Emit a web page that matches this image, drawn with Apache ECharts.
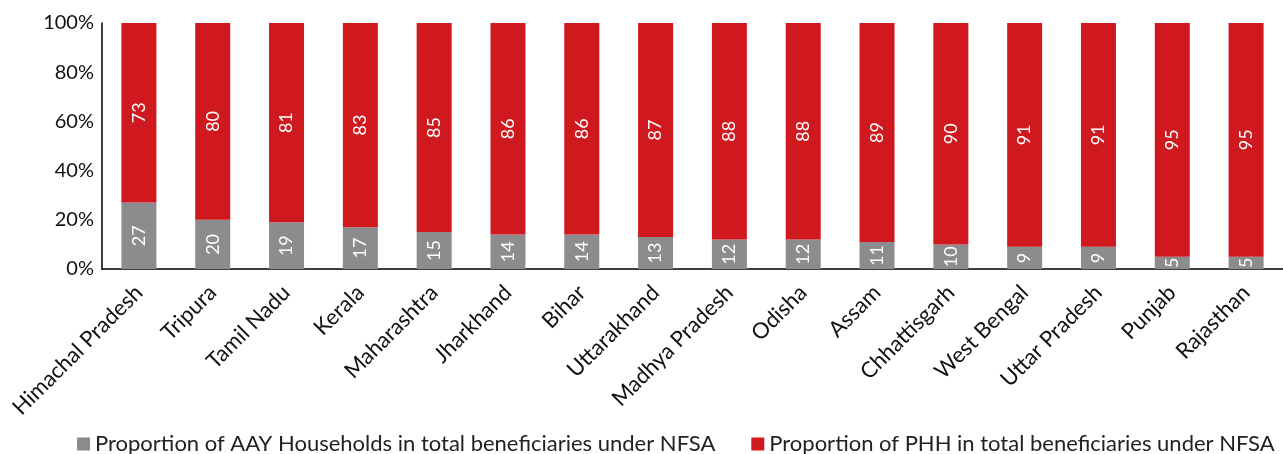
<!DOCTYPE html>
<html><head><meta charset="utf-8">
<script src="https://cdn.jsdelivr.net/npm/echarts@6/dist/echarts.min.js"></script>
<style>html,body{margin:0;padding:0;background:#fff}#c{width:1283px;height:454px}</style>
</head><body><div id="c"></div>
<script>
const categories = ["Himachal Pradesh","Tripura","Tamil Nadu","Kerala","Maharashtra","Jharkhand","Bihar","Uttarakhand","Madhya Pradesh","Odisha","Assam","Chhattisgarh","West Bengal","Uttar Pradesh","Punjab","Rajasthan"];
const aayValues = [27,20,19,17,15,14,14,13,12,12,11,10,9,9,5,5];
const phhValues = [73,80,81,83,85,86,86,87,88,88,89,90,91,91,95,95];
const yTicks = ["0%","20%","40%","60%","80%","100%"];
const seriesNames = ["Proportion of AAY Households in total beneficiaries under NFSA","Proportion of PHH in total beneficiaries under NFSA"];

const font = "Lato, 'Open Sans', sans-serif";
const chart = echarts.init(document.getElementById('c'));
const lbl = {show:true, position:'inside', rotate:90, color:'#fff', fontSize:18, fontFamily:font};
chart.setOption({
  animation:false,
  grid:{left:102, top:23, width:1189, height:246, containLabel:false},
  legend:{top:433, left:77, width:1206, padding:0, itemWidth:13, itemHeight:13, itemGap:36, icon:'rect',
    textStyle:{fontSize:22, color:'#222', fontFamily:font}},
  xAxis:{type:'category', data:categories,
    axisLine:{lineStyle:{color:'#000', width:1.5}}, axisTick:{show:false},
    axisLabel:{rotate:45, interval:0, fontSize:22, color:'#111', fontFamily:font, margin:20}},
  yAxis:{type:'value', min:0, max:100, interval:20,
    axisLine:{show:true, lineStyle:{color:'#000', width:1.5}}, axisTick:{show:false}, splitLine:{show:false},
    axisLabel:{formatter:(v)=>yTicks[v/20], fontSize:20, color:'#111', fontFamily:font, margin:8}},
  series:[
    {name:seriesNames[0], type:'bar', stack:'s', data:aayValues, barWidth:35,
     itemStyle:{color:'#8C8C8E'}, label:lbl},
    {name:seriesNames[1], type:'bar', stack:'s', data:phhValues, barWidth:35,
     itemStyle:{color:'#D0191F'}, label:lbl}
  ]
});
</script></body></html>
